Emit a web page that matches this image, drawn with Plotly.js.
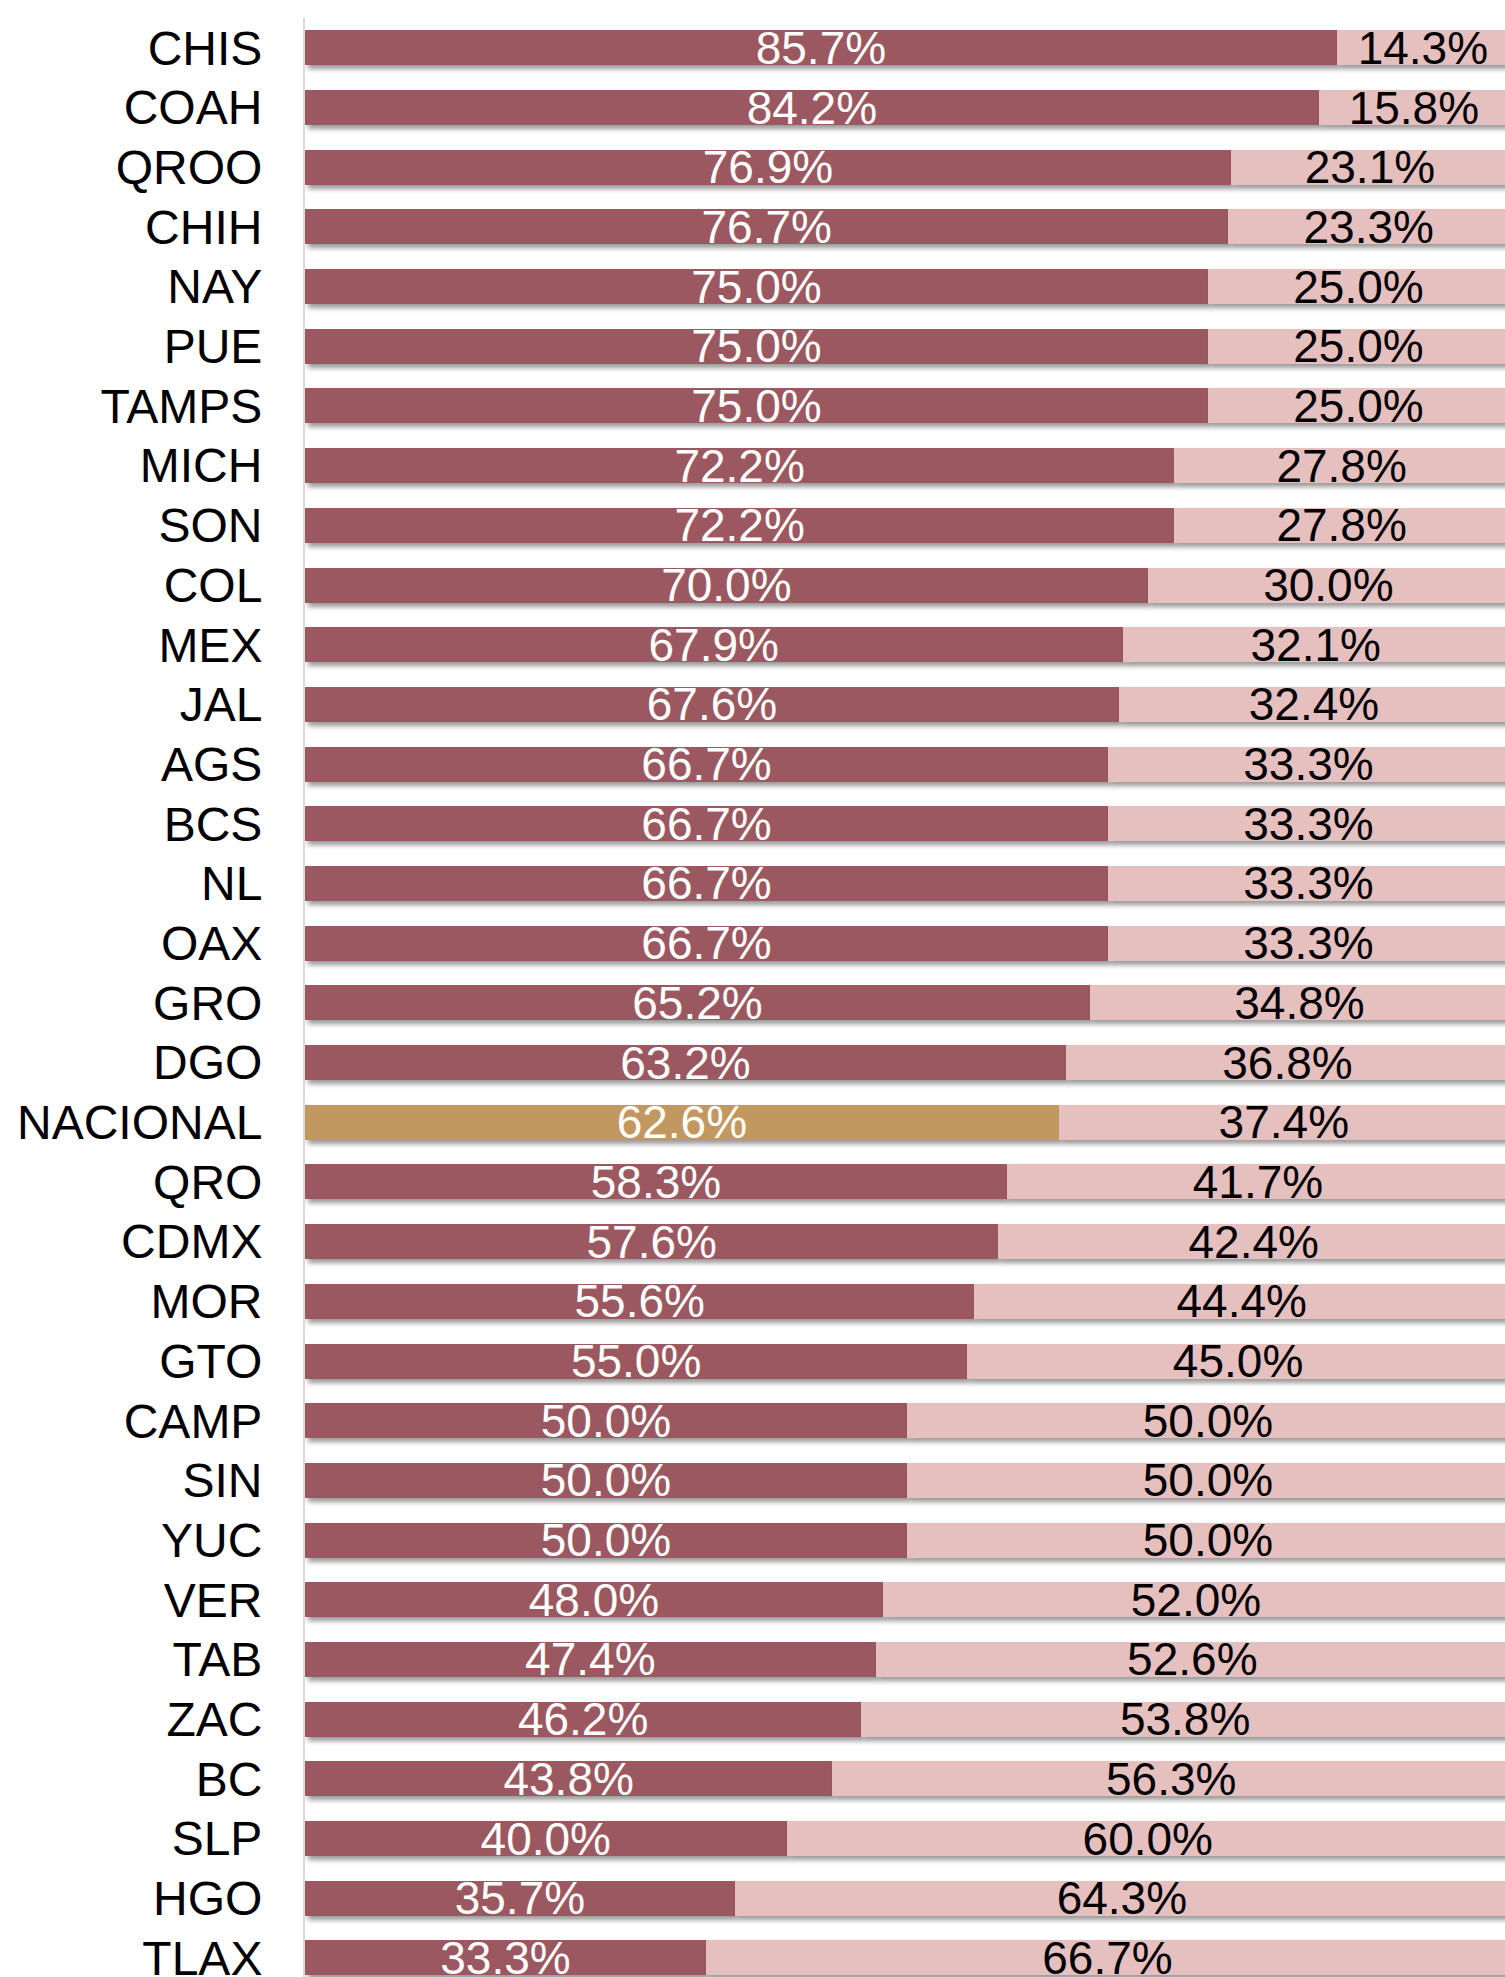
<!DOCTYPE html>
<html>
<head>
<meta charset="utf-8">
<script src="https://cdn.plot.ly/plotly-3.0.1.min.js"></script>
<style>
  html, body { margin: 0; padding: 0; background: #ffffff; }
  #chart { width: 1505px; height: 1977px; }
</style>
</head>
<body>
<div id="chart"></div>
<script>
const categories = ["CHIS","COAH","QROO","CHIH","NAY","PUE","TAMPS","MICH","SON","COL","MEX","JAL","AGS","BCS","NL","OAX","GRO","DGO","NACIONAL","QRO","CDMX","MOR","GTO","CAMP","SIN","YUC","VER","TAB","ZAC","BC","SLP","HGO","TLAX"];
const seriesA = [85.7,84.2,76.9,76.7,75.0,75.0,75.0,72.2,72.2,70.0,67.9,67.6,66.7,66.7,66.7,66.7,65.2,63.2,62.6,58.3,57.6,55.6,55.0,50.0,50.0,50.0,48.0,47.4,46.2,43.8,40.0,35.7,33.3];
const seriesB = [14.3,15.8,23.1,23.3,25.0,25.0,25.0,27.8,27.8,30.0,32.1,32.4,33.3,33.3,33.3,33.3,34.8,36.8,37.4,41.7,42.4,44.4,45.0,50.0,50.0,50.0,52.0,52.6,53.8,56.3,60.0,64.3,66.7];

const DARK = "#9b5960";
const LIGHT = "#e5c0bf";
const GOLD = "#c19960";
const highlight = "NACIONAL";

const fontFam = "Liberation Sans, Arial, sans-serif";

const traceA = {
  type: "bar", orientation: "h",
  y: categories, x: seriesA,
  marker: { color: categories.map(c => c === highlight ? GOLD : DARK) },
  texttemplate: "%{x:.1f}%",
  textposition: "inside", insidetextanchor: "middle",
  textangle: 0, constraintext: "none",
  textfont: { family: fontFam, size: 46, color: "#ffffff" },
  hoverinfo: "skip"
};
const traceB = {
  type: "bar", orientation: "h",
  y: categories, x: seriesB,
  marker: { color: LIGHT },
  texttemplate: "%{x:.1f}%",
  textposition: "inside", insidetextanchor: "middle",
  textangle: 0, constraintext: "none",
  textfont: { family: fontFam, size: 46, color: "#000000" },
  hoverinfo: "skip"
};

const layout = {
  width: 1505, height: 1977,
  margin: { l: 305, r: 0, t: 17.6, b: 0, pad: 0 },
  barmode: "stack",
  bargap: 0.414,
  showlegend: false,
  paper_bgcolor: "#ffffff",
  plot_bgcolor: "#ffffff",
  font: { family: fontFam, color: "#000000" },
  xaxis: {
    range: [0, 99.67],
    showgrid: false, zeroline: false, showline: false,
    showticklabels: false, ticks: ""
  },
  yaxis: {
    type: "category",
    categoryorder: "array", categoryarray: categories,
    range: [32.32, -0.5],
    showgrid: false, zeroline: false,
    showline: true, linecolor: "#d9d9d9", linewidth: 2,
    ticks: "outside", ticklen: 31, tickcolor: "rgba(0,0,0,0)",
    tickfont: { family: fontFam, size: 48, color: "#000000" }
  }
};

Plotly.newPlot("chart", [traceA, traceB], layout, { staticPlot: true, displayModeBar: false }).then(gd => {
  const svg = gd.querySelector("svg.main-svg");
  const ns = "http://www.w3.org/2000/svg";
  let defs = svg.querySelector("defs");
  if (!defs) { defs = document.createElementNS(ns, "defs"); svg.insertBefore(defs, svg.firstChild); }
  const f = document.createElementNS(ns, "filter");
  f.setAttribute("id", "barshadow");
  f.setAttribute("x", "-5%"); f.setAttribute("y", "-50%");
  f.setAttribute("width", "110%"); f.setAttribute("height", "220%");
  const ds = document.createElementNS(ns, "feDropShadow");
  ds.setAttribute("dx", "3"); ds.setAttribute("dy", "4");
  ds.setAttribute("stdDeviation", "2.5");
  ds.setAttribute("flood-color", "#000000");
  ds.setAttribute("flood-opacity", "0.4");
  f.appendChild(ds);
  defs.appendChild(f);
  gd.querySelectorAll(".barlayer .point path").forEach(p => p.setAttribute("filter", "url(#barshadow)"));
});
</script>
</body>
</html>
